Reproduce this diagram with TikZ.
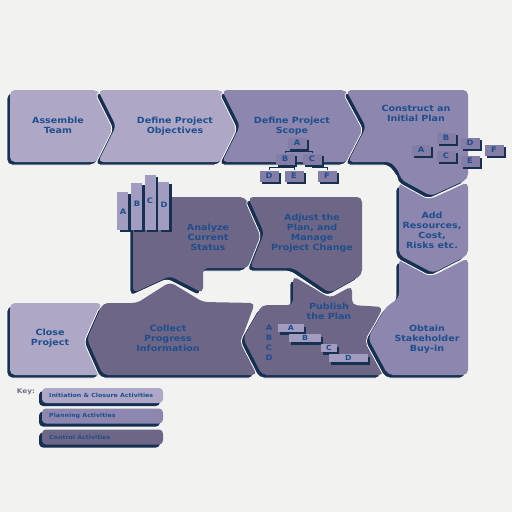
\documentclass[tikz,border=0pt]{standalone}
\usepackage{fontspec}
\newfontfamily\tfont{DejaVu Sans}[FakeStretch=1.12]
\usetikzlibrary{shadows}
\definecolor{bgc}{HTML}{F2F2F0}
\definecolor{lightc}{HTML}{AEA8C6}
\definecolor{medc}{HTML}{8D87AF}
\definecolor{darkc}{HTML}{6E6687}
\definecolor{navy}{HTML}{163052}
\definecolor{textblue}{HTML}{1F4E8C}
\definecolor{boxc}{HTML}{847DA6}
\definecolor{barc}{HTML}{A29CC0}
\definecolor{keyc}{HTML}{6E6E8C}
\newcommand\piece[2]{%
  \path[fill=navy,draw=white,line width=0.8pt,rounded corners=5pt,shift={(-3,3)}] #2;
  \path[fill=#1,rounded corners=5pt] #2;}
\tikzset{
  lbl/.style={align=center,text=textblue,inner sep=0pt,font=\tfont\bfseries\fontsize{8.5}{10}\selectfont},
  boxlbl/.style={text=textblue,inner sep=0pt,font=\tfont\bfseries\fontsize{7.5}{8}\selectfont},
  keylbl/.style={text=textblue,inner sep=0pt,anchor=west,font=\tfont\bfseries\fontsize{5.6}{6}\selectfont},
  sbox/.style={fill=boxc,minimum width=19pt,minimum height=11pt,inner sep=0pt,
    text=textblue,font=\tfont\bfseries\fontsize{7.5}{8}\selectfont,
    drop shadow={fill=navy,opacity=1,shadow xshift=2pt,shadow yshift=-2pt}},
  gbar/.style={fill=barc,minimum height=8pt,inner sep=0pt,
    text=textblue,font=\tfont\bfseries\fontsize{7}{8}\selectfont,
    drop shadow={fill=navy,opacity=1,shadow xshift=2pt,shadow yshift=-2.5pt}},
  vbar/.style={fill=barc,minimum width=11pt,inner sep=0pt,
    drop shadow={fill=navy,opacity=1,shadow xshift=2.5pt,shadow yshift=-2pt}},
  keybox/.style={rounded corners=4pt,minimum width=121pt,minimum height=15pt,inner sep=0pt,
    drop shadow={fill=navy,opacity=1,shadow xshift=-3pt,shadow yshift=-3pt}},
  tree/.style={draw=navy,line width=0.6pt}
}
\begin{document}
\begin{tikzpicture}[x=1pt,y=-1pt]
\useasboundingbox (0,0) rectangle (512,512);
\fill[bgc] (0,0) rectangle (512,512);
% lower rows first
\piece{lightc}{(10,303) -- (102,303) -- (87,339) -- (102,375) -- (10,375) -- cycle}
\piece{darkc}{(103,303) -- (137,303) -- (170,282) -- (203,302) -- (255,303) -- (242,338) -- (257,375) -- (103,375) -- (87,339) -- cycle}
\piece{darkc}{(262,305) -- (293,305) -- (293,276) -- (330,298) -- (352,286) -- (352,305) -- (383,307) -- (368,338) -- (384,375) -- (262,375) -- (243,338) -- cycle}
\piece{darkc}{(133,197) -- (245,197) -- (263,233) -- (248,268) -- (203,268) -- (203,293) -- (170,276) -- (133,293) -- cycle}
\piece{darkc}{(248,197) -- (362,197) -- (362,275) -- (330,293) -- (293,268) -- (250,268) -- (264,233) -- cycle}
\piece{medc}{(399,258) -- (433,276) -- (468,258) -- (468,375) -- (388,375) -- (368,338) -- (386,307) -- (399,298) -- cycle}
\piece{medc}{(399,182) -- (431,199) -- (468,182) -- (468,255) -- (433,273) -- (399,255) -- cycle}
% top row
\piece{lightc}{(10,90) -- (98,90) -- (116,126) -- (98,162) -- (10,162) -- cycle}
\piece{lightc}{(98,90) -- (222,90) -- (240,126) -- (222,162) -- (98,162) -- (116,126) -- cycle}
\piece{medc}{(222,90) -- (346,90) -- (366,127) -- (348,162) -- (222,162) -- (240,126) -- cycle}
\piece{medc}{(346,90) -- (468,90) -- (468,179) -- (431,196) -- (400,179) -- (400,173) -- (391,162) -- (348,162) -- (366,127) -- cycle}
% labels
\node[lbl] (tAssemble) at (58,125) {Assemble\\Team};
\node[lbl] (tObjectives) at (175,126) {Define Project\\Objectives};
\node[lbl] (tScope) at (292,126) {Define Project\\Scope};
\node[lbl] (tConstruct) at (416,113) {Construct an\\Initial Plan};
\node[lbl] (tAdd) at (432,230) {Add\\Resources,\\Cost,\\Risks etc.};
\node[lbl] (tObtain) at (427,339) {Obtain\\Stakeholder\\Buy-in};
\node[lbl] (tAnalyze) at (208,237) {Analyze\\Current\\Status};
\node[lbl] (tAdjust) at (312,233) {Adjust the\\Plan, and\\Manage\\Project Change};
\node[lbl] (tCollect) at (168,338) {Collect\\Progress\\Information};
\node[lbl] (tClose) at (50,338) {Close\\Project};
\node[lbl] (tPublish) at (329,311) {Publish\\the Plan};
% scope tree
\node[sbox] (sA) at (297,143) {A};
\node[sbox] (sB) at (285,159) {B};
\node[sbox] (sC) at (312,159) {C};
\node[sbox] (sD) at (269,176) {D};
\node[sbox] (sE) at (294,176) {E};
\node[sbox] (sF) at (327,176) {F};
\draw[tree] (sA.south) -- ++(0,2.5) -| (sB.north);
\draw[tree] (sA.south) -- ++(0,2.5) -| (sC.north);
\draw[tree] (sB.south) -- ++(0,3) -| (sD.north);
\draw[tree] (sB.south) -- ++(0,3) -| (sE.north);
\draw[tree] (sC.south) -- ++(0,3) -| (sF.north);
% construct boxes
\node[sbox] (cA) at (421,150) {A};
\node[sbox] (cB) at (446,138) {B};
\node[sbox] (cC) at (446,156) {C};
\node[sbox] (cD) at (470,143) {D};
\node[sbox] (cE) at (470,161) {E};
\node[sbox] (cF) at (494,150) {F};
% analyze bars
\node[vbar,minimum height=38pt] (vA) at (122.5,211) {};
\node[vbar,minimum height=47pt] (vB) at (136.5,206.5) {};
\node[vbar,minimum height=55pt] (vC) at (150,202.5) {};
\node[vbar,minimum height=48pt] (vD) at (163.5,206) {};
\node[boxlbl] (lA) at (123,212) {A};
\node[boxlbl] (lB) at (137,204) {B};
\node[boxlbl] (lC) at (150,201) {C};
\node[boxlbl] (lD) at (164,205) {D};
% publish gantt
\node[boxlbl] (pLA) at (269,328) {A};
\node[boxlbl] (pLB) at (269,338) {B};
\node[boxlbl] (pLC) at (269,348) {C};
\node[boxlbl] (pLD) at (269,358) {D};
\node[gbar,minimum width=26pt] (gA) at (291,328) {A};
\node[gbar,minimum width=32pt] (gB) at (305,338) {B};
\node[gbar,minimum width=16pt] (gC) at (329,348) {C};
\node[gbar,minimum width=39pt] (gD) at (348.5,358) {D};
% key
\node[text=keyc,inner sep=0pt,font=\tfont\bfseries\fontsize{6.5}{7}\selectfont] (key) at (26,392) {Key:};
\node[keybox,fill=lightc] (k1) at (102.5,395.5) {};
\node[keybox,fill=medc] (k2) at (102.5,416) {};
\node[keybox,fill=darkc] (k3) at (102.5,437) {};
\node[keylbl] (k1t) at (49,395.5) {Initiation \& Closure Activities};
\node[keylbl] (k2t) at (49,416) {Planning Activities};
\node[keylbl] (k3t) at (49,437) {Control Activities};
\end{tikzpicture}
\end{document}
